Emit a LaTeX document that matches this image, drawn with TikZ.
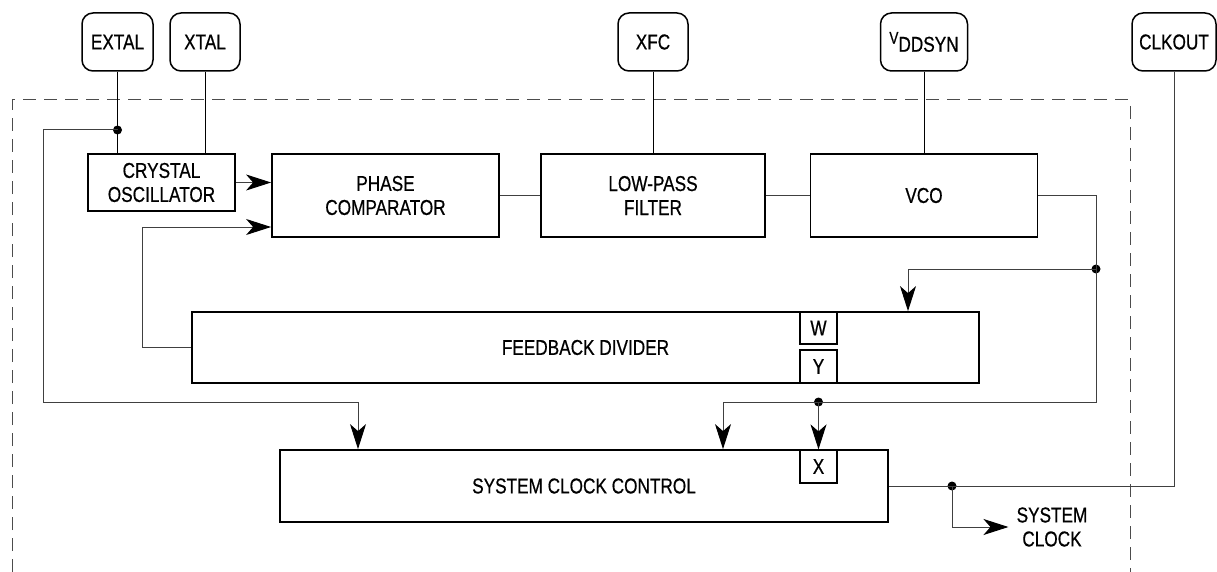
\documentclass[tikz,border=0pt]{standalone}
\usepackage{fontspec}
\setmainfont{Liberation Sans}[FakeStretch=0.8,FakeBold=0.6]
\usetikzlibrary{arrows.meta,positioning}

\begin{document}
\begin{tikzpicture}[x=1pt,y=-1pt,font=\fontsize{21.5}{24}\selectfont,
  blk/.style={draw,line width=1.8pt,inner sep=0pt,align=center},
  pin/.style={draw,line width=1.5pt,rounded corners=11pt,minimum height=58pt,inner sep=0pt},
  sub/.style={draw,line width=1.2pt,minimum width=37pt,inner sep=0pt},
  wire/.style={line width=1pt,black!75},
  arr/.style={wire,-{Stealth[length=25pt,width=16pt,inset=7pt,black]}},
  dot/.style={circle,fill,inner sep=0pt,minimum size=9pt}]
\useasboundingbox (0,0) rectangle (1217,572);

  % pins
  \node[pin,minimum width=71pt]  (extal)  at (117.5,42) {EXTAL};
  \node[pin,minimum width=70pt]  (xtal)   at (205,42)   {XTAL};
  \node[pin,minimum width=70pt]  (xfc)    at (653,42)   {XFC};
  \node[pin,minimum width=87pt]  (vdd)    at (924,42)   {{\fontsize{17}{17}\selectfont\raisebox{8pt}{V}}DDSYN};
  \node[pin,minimum width=84pt]  (clkout) at (1174,42)  {CLKOUT};

  % blocks
  \node[blk,minimum width=147pt,minimum height=57pt] (osc) at (161.5,182.5) {CRYSTAL\\OSCILLATOR};
  \node[blk,minimum width=227pt,minimum height=83pt] (pc)  at (385.5,195.5) {PHASE\\COMPARATOR};
  \node[blk,minimum width=224pt,minimum height=83pt] (lpf) at (653,195.5)   {LOW-PASS\\FILTER};
  \node[blk,minimum width=227pt,minimum height=83pt] (vco) at (924,195.5)   {VCO};
  \node[blk,minimum width=787pt,minimum height=71pt] (fd)  at (585.5,347.5) {FEEDBACK DIVIDER};
  \node[blk,minimum width=608pt,minimum height=72pt] (scc) at (584,486)     {SYSTEM CLOCK CONTROL};
  \node[sub,minimum height=32pt] (w) at (818.5,328)   {W};
  \node[sub,minimum height=33pt] (y) at (818.5,366.5) {Y};
  \node[sub,minimum height=33pt] (x) at (818.5,466.5) {X};
  \node[align=center,inner xsep=8pt,inner ysep=0pt] (sys) at (1052,527) {SYSTEM\\CLOCK};

  % junctions
  \node[dot] (d1) at (117.5,130) {};
  \node[dot] (d2) at (1096,269)  {};
  \node[dot] (d3) at (818.5,402) {};
  \node[dot] (d4) at (scc.east -| 952,0) {};

  % dashed boundary
  \draw[line width=1pt,black!70,dash pattern=on 13pt off 8pt] (12,572) -- (12,100) -- (1130,100) -- (1130,572);

  % pin wires
  \draw[line width=1pt] (extal) -- (extal |- osc.north);
  \draw[line width=1pt] (xtal) -- (xtal |- osc.north);
  \draw[line width=1pt] (xfc) -- (lpf);
  \draw[line width=1pt] (vdd) -- (vco);

  \path[wire]
    (pc) edge (lpf)
    (lpf) edge (vco);
  \draw[arr] (osc.east) -- (osc.east -| pc.west);
  \draw[arr] (fd.west) -| (142,227) -- (pc.west |- 142,227);
  \draw[arr] (d1.center) -| (43,402) -| ([xshift=-226pt]scc.north);
  \draw[arr] (vco.east) -| (1096,402) -| ([xshift=139pt]scc.north);
  \draw[arr] (d2.center) -| ([xshift=322.5pt]fd.north);
  \draw[arr] (d3.center) -- (x.north);
  \draw[wire] (scc.east) -| (clkout.south);
  \draw[arr] (d4.center) |- (sys.west);
\end{tikzpicture}
\end{document}
